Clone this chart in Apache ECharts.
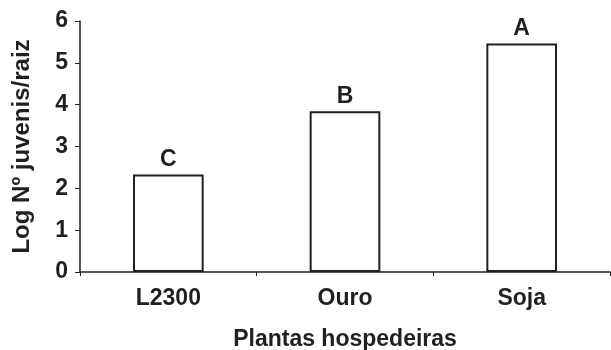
<!DOCTYPE html>
<html><head><meta charset="utf-8">
<script src="https://cdn.jsdelivr.net/npm/echarts@6/dist/echarts.min.js"></script>
<style>html,body{margin:0;padding:0;background:#fff}#c{width:611px;height:350px}</style>
</head><body><div id="c"></div>
<script>
const categories = ["L2300", "Ouro", "Soja"];
const values = [2.33, 3.84, 5.46];
const letters = ["C", "B", "A"];
const yTicks = [0, 1, 2, 3, 4, 5, 6];

const ink = '#231f20';
const font = '"Liberation Sans", Arial, sans-serif';
const chart = echarts.init(document.getElementById('c'), null, {renderer: 'canvas'});
chart.setOption({
  animation: false,
  backgroundColor: '#fff',
  grid: {left: 80, right: 1, top: 21, bottom: 78, containLabel: false, outerBoundsMode: 'none'},
  xAxis: {
    type: 'category', data: categories,
    name: 'Plantas hospedeiras', nameLocation: 'middle', nameGap: 56,
    nameTextStyle: {fontFamily: font, fontWeight: 'bold', fontSize: 23, color: ink},
    axisLine: {lineStyle: {color: ink, width: 1.5}},
    axisTick: {show: true, length: 4, lineStyle: {color: ink}},
    axisLabel: {fontFamily: font, fontWeight: 'bold', fontSize: 23, color: ink, margin: 15}
  },
  yAxis: {
    type: 'value', min: yTicks[0], max: yTicks[yTicks.length - 1], interval: 1,
    name: 'Log Nº juvenis/raiz', nameLocation: 'middle', nameGap: 46,
    nameTextStyle: {fontFamily: font, fontWeight: 'bold', fontSize: 24, color: ink},
    axisLine: {show: true, lineStyle: {color: ink, width: 1.5}},
    axisTick: {show: true, length: 5, lineStyle: {color: ink}},
    splitLine: {show: false},
    axisLabel: {fontFamily: font, fontWeight: 'bold', fontSize: 23, color: ink, margin: 12}
  },
  series: [{
    type: 'bar', data: values, barWidth: '40%',
    itemStyle: {color: '#fff', borderColor: ink, borderWidth: 2},
    label: {
      show: true, position: 'top', distance: 3,
      formatter: p => letters[p.dataIndex],
      fontFamily: font, fontWeight: 'bold', fontSize: 23, color: ink
    }
  }]
});
</script></body></html>
